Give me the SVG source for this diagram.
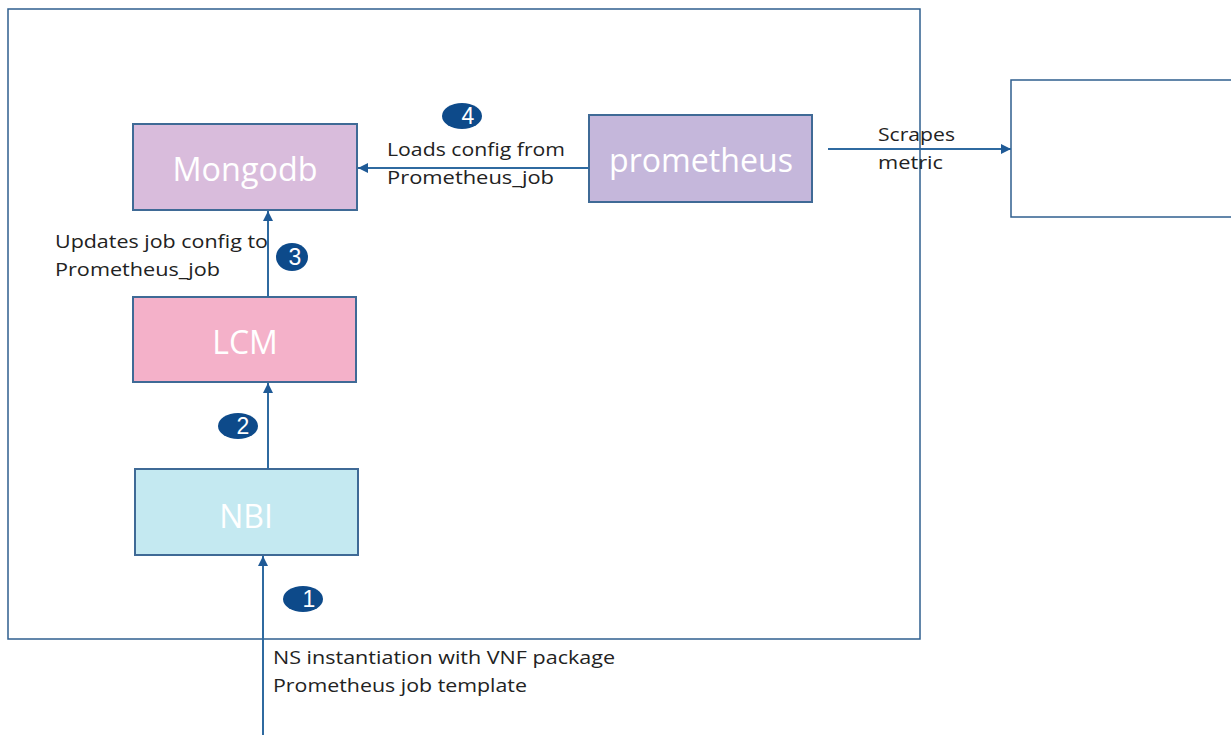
<svg xmlns="http://www.w3.org/2000/svg" width="1231" height="735" viewBox="0 0 1231 735">
<defs>
<style>
.frame{fill:#fff;stroke:#2f5f8f;stroke-width:1.5}
.node{stroke:#3f6a96;stroke-width:2}
.nl{font-family:"Open Sans","Liberation Sans",sans-serif;font-size:32px;fill:#fff;text-anchor:middle}
.lbl{font-family:"Open Sans","Liberation Sans",sans-serif;font-size:18px;fill:#222}
.conn{stroke:#2f6aa0;stroke-width:2;fill:none}
.badge{fill:#0d4a8a}
.bn{font-family:"Liberation Sans",sans-serif;font-size:23px;fill:#fff;text-anchor:middle}
</style>
<marker id="ah" viewBox="0 0 10 10" refX="10" refY="5" markerWidth="5" markerHeight="5" orient="auto" markerUnits="strokeWidth">
<path d="M0,0 L10,5 L0,10 z" fill="#1f5a96"/>
</marker>
</defs>
<rect width="1231" height="735" fill="#fff"/>
<rect class="frame" x="8" y="9" width="912" height="630"/>
<rect class="frame" x="1011" y="80" width="240" height="137"/>

<g id="mongodb"><rect class="node" x="133" y="124" width="224" height="86" fill="#d9bcdc"/><text class="nl" x="245" y="181" textLength="145" lengthAdjust="spacingAndGlyphs">Mongodb</text></g>
<g id="prometheus"><rect class="node" x="589" y="115" width="223" height="87" fill="#c5b7db"/><text class="nl" x="701" y="172" textLength="184" lengthAdjust="spacingAndGlyphs">prometheus</text></g>
<g id="lcm"><rect class="node" x="133" y="297" width="223" height="85" fill="#f4b1c9"/><text class="nl" x="245" y="354">LCM</text></g>
<g id="nbi"><rect class="node" x="135" y="469" width="223" height="86" fill="#c4e9f1"/><text class="nl" x="246" y="528">NBI</text></g>

<g id="connectors">
<line class="conn" x1="589" y1="168" x2="358" y2="168" marker-end="url(#ah)"/>
<line class="conn" x1="828" y1="149" x2="1011" y2="149" marker-end="url(#ah)"/>
<line class="conn" x1="268" y1="297" x2="268" y2="211" marker-end="url(#ah)"/>
<line class="conn" x1="268" y1="469" x2="268" y2="383" marker-end="url(#ah)"/>
<line class="conn" x1="263" y1="735" x2="263" y2="556" marker-end="url(#ah)"/>
</g>

<g id="labels">
<text class="lbl" x="387" y="156" textLength="178" lengthAdjust="spacingAndGlyphs">Loads config from</text>
<text class="lbl" x="387" y="184" textLength="167" lengthAdjust="spacingAndGlyphs">Prometheus_job</text>
<text class="lbl" x="878" y="141" textLength="77" lengthAdjust="spacingAndGlyphs">Scrapes</text>
<text class="lbl" x="878" y="169" textLength="65" lengthAdjust="spacingAndGlyphs">metric</text>
<text class="lbl" x="55" y="248" textLength="213" lengthAdjust="spacingAndGlyphs">Updates job config to</text>
<text class="lbl" x="55" y="276" textLength="165" lengthAdjust="spacingAndGlyphs">Prometheus_job</text>
<text class="lbl" x="273" y="664" textLength="342" lengthAdjust="spacingAndGlyphs">NS instantiation with VNF package</text>
<text class="lbl" x="273" y="692" textLength="254" lengthAdjust="spacingAndGlyphs">Prometheus job template</text>
</g>

<g id="badges">
<ellipse class="badge" cx="462" cy="116" rx="20" ry="13"/><text class="bn" x="468" y="124">4</text>
<ellipse class="badge" cx="292" cy="257" rx="16" ry="14"/><text class="bn" x="295" y="265">3</text>
<ellipse class="badge" cx="238" cy="426" rx="20" ry="13"/><text class="bn" x="243" y="434">2</text>
<ellipse class="badge" cx="303" cy="599" rx="20" ry="13"/><text class="bn" x="309" y="607">1</text>
</g>
</svg>
